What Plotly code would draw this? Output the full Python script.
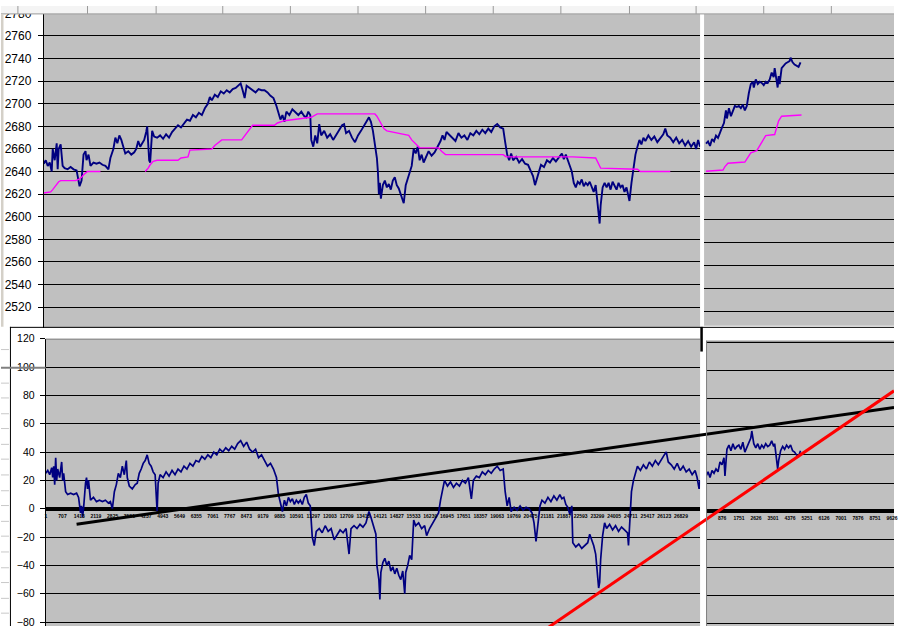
import plotly.graph_objects as go

W, H = 898, 628

# ---------------- data ----------------
# top chart, left panel: price (navy) and stepped baseline (magenta); x = sample number
top_price_x = [0, 84, 168, 252, 336, 378, 462, 546, 588, 630, 714, 756, 798, 882, 1008, 1134, 1260, 1386, 1470, 1512,
               1596, 1680, 1764, 1806, 1890, 1974, 2100, 2226, 2352, 2478, 2604, 2730, 2814, 2940, 3024, 3108, 3192,
               3276, 3360, 3444, 3570, 3696, 3822, 3906, 3990, 4074, 4158, 4242, 4326, 4368, 4410, 4452, 4494, 4536,
               4578, 4662, 4788, 4914, 5040, 5166, 5292, 5418, 5544, 5670, 5796, 5922, 6048, 6174, 6300, 6426, 6552,
               6678, 6804, 6930, 7014, 7098, 7224, 7350, 7476, 7602, 7728, 7854, 7980, 8106, 8232, 8316, 8400, 8484,
               8568, 8694, 8820, 8946, 9072, 9198, 9324, 9450, 9576, 9702, 9828, 9912, 9996, 10080, 10164, 10248,
               10374, 10500, 10626, 10752, 10878, 11004, 11088, 11172, 11256, 11298, 11382, 11466, 11550, 11634, 11718,
               11844, 11970, 12096, 12222, 12348, 12474, 12600, 12684, 12768, 12894, 13020, 13146, 13272, 13398, 13524,
               13650, 13734, 13818, 13902, 13986, 14070, 14112, 14154, 14196, 14238, 14322, 14406, 14490, 14574, 14658,
               14742, 14826, 14910, 14994, 15078, 15162, 15204, 15288, 15372, 15456, 15540, 15624, 15708, 15792, 15876,
               15960, 16044, 16128, 16254, 16380, 16506, 16632, 16758, 16842, 16926, 17010, 17136, 17262, 17388, 17514,
               17640, 17766, 17892, 18018, 18144, 18270, 18396, 18522, 18648, 18774, 18900, 19026, 19152, 19278, 19404,
               19488, 19572, 19656, 19740, 19824, 19950, 20076, 20202, 20328, 20454, 20580, 20664, 20748, 20832, 20916,
               21000, 21126, 21252, 21378, 21504, 21630, 21756, 21882, 21966, 22050, 22134, 22218, 22302, 22386, 22470,
               22554, 22638, 22722, 22806, 22890, 22974, 23058, 23142, 23226, 23310, 23394, 23436, 23478, 23520, 23604,
               23688, 23772, 23856, 23940, 24024, 24108, 24192, 24276, 24360, 24444, 24528, 24612, 24696, 24738, 24822,
               24906, 24990, 25074, 25158, 25242, 25326, 25410, 25536, 25662, 25788, 25914, 26040, 26166, 26250, 26334,
               26460, 26586, 26712, 26838, 26964, 27090, 27216, 27342, 27468, 27552, 27636, 27720]
top_price_y = [2647, 2650, 2645, 2648, 2640, 2660, 2650, 2665, 2642, 2660, 2664, 2650, 2645, 2643, 2642, 2644, 2642,
               2641, 2630, 2627, 2632, 2655, 2658, 2650, 2655, 2645, 2648, 2647, 2648, 2646, 2645, 2642, 2652, 2660,
               2670, 2665, 2672, 2668, 2662, 2656, 2658, 2655, 2657, 2660, 2667, 2662, 2665, 2668, 2675, 2680, 2665,
               2650, 2648, 2662, 2676, 2671, 2670, 2672, 2669, 2673, 2670, 2675, 2678, 2681, 2679, 2683, 2686, 2685,
               2690, 2688, 2692, 2690, 2696, 2700, 2706, 2703, 2708, 2706, 2711, 2709, 2712, 2710, 2713, 2714, 2716,
               2718, 2712, 2705, 2716, 2714, 2712, 2710, 2713, 2712, 2712, 2710, 2707, 2705, 2698, 2692, 2686, 2690,
               2684, 2693, 2690, 2695, 2692, 2690, 2693, 2689, 2688, 2693, 2690, 2668, 2662, 2672, 2665, 2682, 2672,
               2676, 2670, 2673, 2668, 2672, 2676, 2681, 2682, 2674, 2676, 2670, 2666, 2672, 2676, 2680, 2685, 2688,
               2684, 2676, 2664, 2652, 2640, 2620, 2630, 2616, 2628, 2632, 2626, 2629, 2624, 2632, 2635, 2628, 2625,
               2620, 2616, 2612, 2628, 2634, 2640, 2645, 2660, 2656, 2662, 2650, 2655, 2648, 2652, 2658, 2654, 2657,
               2662, 2667, 2672, 2668, 2675, 2672, 2670, 2667, 2674, 2670, 2672, 2668, 2674, 2672, 2676, 2673, 2677,
               2674, 2678, 2675, 2680, 2682, 2679, 2678, 2666, 2655, 2650, 2656, 2650, 2653, 2648, 2651, 2647, 2646,
               2640, 2636, 2628, 2634, 2642, 2646, 2644, 2650, 2648, 2652, 2649, 2653, 2656, 2651, 2655, 2650, 2645,
               2640, 2630, 2626, 2631, 2629, 2633, 2627, 2630, 2628, 2631, 2626, 2622, 2628, 2612, 2600, 2594, 2610,
               2626, 2630, 2626, 2630, 2624, 2631, 2627, 2624, 2630, 2626, 2628, 2622, 2626, 2618, 2614, 2630, 2645,
               2655, 2662, 2668, 2664, 2670, 2667, 2672, 2668, 2671, 2666, 2670, 2673, 2678, 2672, 2670, 2666, 2670,
               2665, 2668, 2663, 2667, 2662, 2666, 2660, 2668, 2662]

top_base_x = [0, 294, 378, 504, 630, 714, 1344, 1470, 1596, 1722, 1848, 2394, 2500, 4284, 4410, 4494, 4620, 4788,
              5670, 5796, 6090, 6174, 7098, 7224, 7392, 7518, 8358, 8526, 8694, 8820, 9744, 9870, 10164, 10584, 11004,
              11298, 11550, 13986, 14070, 14154, 14238, 14364, 14490, 14994, 15414, 15540, 15708, 15876, 16674, 16800,
              16968, 19404, 19530, 20880, 22344, 23310, 23394, 23520, 25074, 25200, 26460]
top_base_y = [2621, 2622, 2624, 2628, 2631, 2632, 2632, 2633, 2635, 2638, 2640, 2640, None, 2640, 2643, 2646, 2649,
              2650, 2650, 2652, 2653, 2659, 2660, 2663, 2666, 2668, 2668, 2673, 2678, 2681, 2681, 2683, 2685, 2686,
              2687, 2688, 2691, 2691, 2689, 2686, 2682, 2678, 2676, 2674, 2672, 2668, 2664, 2661, 2661, 2658, 2655,
              2655, 2653, 2653, 2653, 2652, 2648, 2643, 2642, 2640, 2640]

# top chart, right panel
right_price_x = [51, 154, 256, 358, 461, 563, 666, 768, 870, 973, 1075, 1126, 1229, 1331, 1434, 1536, 1638, 1741,
                 1843, 1946, 2048, 2150, 2253, 2355, 2458, 2509, 2611, 2714, 2816, 2918, 3021, 3123, 3226, 3328, 3430,
                 3533, 3584, 3686, 3738, 3789, 3840, 3942, 4045, 4147, 4250, 4352, 4403, 4506, 4608, 4710, 4813, 4915]
right_price_y = [2666, 2668, 2664, 2670, 2668, 2673, 2671, 2676, 2680, 2684, 2695, 2688, 2697, 2690, 2694, 2699, 2698,
                 2699, 2697, 2700, 2695, 2699, 2710, 2718, 2720, 2715, 2722, 2718, 2720, 2719, 2717, 2720, 2719, 2722,
                 2728, 2724, 2732, 2718, 2715, 2725, 2718, 2732, 2734, 2736, 2737, 2738, 2741, 2737, 2735, 2734, 2733,
                 2737]
right_base_x = [51, 922, 1024, 1178, 2048, 2202, 2355, 2662, 2816, 2970, 3123, 3584, 3686, 3789, 3942, 4966]
right_base_y = [2642, 2643, 2646, 2649, 2650, 2654, 2658, 2660, 2664, 2669, 2673, 2674, 2680, 2686, 2690, 2691]

# bottom chart, left panel: oscillator
osc_x = [0, 84, 168, 252, 294, 336, 378, 420, 462, 504, 588, 672, 714, 756, 840, 924, 1050, 1176, 1302, 1386, 1470,
         1512, 1554, 1596, 1680, 1722, 1764, 1806, 1890, 2016, 2142, 2268, 2394, 2520, 2646, 2730, 2814, 2898, 2982,
         3066, 3150, 3234, 3318, 3402, 3444, 3528, 3654, 3780, 3864, 3948, 4032, 4116, 4200, 4284, 4368, 4452, 4536,
         4620, 4704, 4746, 4830, 4956, 5082, 5208, 5334, 5460, 5586, 5712, 5838, 5964, 6090, 6216, 6342, 6468, 6594,
         6720, 6846, 6972, 7098, 7224, 7350, 7476, 7602, 7728, 7854, 7980, 8106, 8232, 8358, 8484, 8610, 8736, 8862,
         8988, 9114, 9240, 9366, 9492, 9618, 9744, 9828, 9912, 9996, 10080, 10164, 10248, 10332, 10416, 10500, 10584,
         10668, 10752, 10836, 10920, 11004, 11088, 11172, 11256, 11340, 11424, 11550, 11676, 11802, 11928, 12054,
         12180, 12306, 12432, 12558, 12684, 12810, 12894, 13020, 13146, 13272, 13398, 13524, 13650, 13734, 13860,
         13944, 13986, 14070, 14112, 14154, 14238, 14322, 14406, 14490, 14574, 14658, 14742, 14826, 14910, 14994,
         15078, 15162, 15204, 15288, 15372, 15456, 15540, 15624, 15750, 15876, 16002, 16086, 16212, 16338, 16464,
         16590, 16674, 16758, 16842, 16968, 17094, 17220, 17346, 17472, 17598, 17724, 17850, 17976, 18060, 18186,
         18312, 18438, 18564, 18690, 18816, 18942, 19068, 19194, 19320, 19404, 19488, 19572, 19656, 19782, 19908,
         20034, 20160, 20286, 20412, 20538, 20622, 20706, 20790, 20874, 20958, 21084, 21210, 21336, 21462, 21588,
         21714, 21798, 21882, 21966, 22050, 22134, 22218, 22260, 22386, 22512, 22638, 22764, 22890, 22974, 23058,
         23142, 23226, 23268, 23310, 23352, 23394, 23436, 23520, 23604, 23688, 23814, 23940, 24066, 24192, 24318,
         24444, 24570, 24612, 24696, 24738, 24822, 24906, 24990, 25116, 25242, 25368, 25494, 25620, 25746, 25872,
         25998, 26124, 26208, 26292, 26418, 26544, 26670, 26796, 26922, 27048, 27174, 27300, 27426, 27510, 27594,
         27636]
osc_y = [25, 27, 24, 29, 22, 30, 17, 36, 20, 28, 22, 33, 20, 25, 12, 10, 11, 10, 11, 8, -3, 2, -6, 0, 18, 22, 14, 20,
         6, 8, 5, 6, 5, 6, 4, 5, 0, 12, 17, 25, 22, 30, 24, 34, 22, 16, 14, 17, 18, 25, 28, 32, 34, 38, 32, 30, 26, 24,
         -2, 18, 24, 22, 26, 23, 27, 24, 28, 26, 30, 28, 32, 30, 34, 33, 37, 35, 38, 36, 40, 38, 42, 40, 43, 41, 44, 42,
         46, 48, 44, 47, 42, 40, 42, 36, 38, 34, 30, 32, 28, 22, 10, 4, -2, 6, 2, 8, 5, 7, 3, 6, 4, 6, 3, 8, 10, 4, 2,
         -20, -26, -16, -14, -17, -12, -16, -14, -22, -18, -15, -17, -14, -32, -14, -12, -14, -11, -13, -10, -2, -6,
         -14, -18, -40, -50, -64, -45, -38, -35, -40, -37, -44, -41, -46, -42, -47, -50, -44, -60, -45, -40, -33, -36,
         -8, -12, -10, -14, -12, -19, -14, -10, -6, -3, 6, 14, 20, 16, 19, 15, 18, 16, 20, 18, 22, 7, 20, 23, 22, 26,
         24, 27, 25, 28, 30, 27, 28, 12, 2, 8, -2, 1, -1, 2, -1, 1, 0, -3, -10, -23, -8, 2, 6, 4, 8, 5, 9, 6, 10, 7, 8,
         3, 1, -4, 2, -24, -27, -25, -28, -26, -24, -18, -22, -26, -32, -40, -48, -56, -52, -36, -19, -10, -14, -11,
         -15, -12, -16, -13, -15, -17, -26, -5, 12, 20, 26, 30, 27, 31, 28, 33, 30, 34, 31, 35, 38, 40, 33, 31, 28, 32,
         27, 30, 26, 28, 24, 27, 22, 14, 20]

# bottom chart, right panel
osc_r_x = [51, 154, 256, 358, 461, 563, 666, 768, 870, 973, 1024, 1126, 1229, 1331, 1434, 1536, 1638, 1741, 1843,
           1946, 2048, 2150, 2253, 2355, 2406, 2509, 2611, 2714, 2816, 2918, 3021, 3123, 3226, 3328, 3430, 3533, 3584,
           3686, 3738, 3789, 3891, 3994, 4096, 4198, 4301, 4403, 4506, 4608, 4710, 4813, 4915]
osc_r_y = [25, 28, 24, 29, 27, 30, 28, 35, 33, 38, 25, 44, 47, 43, 48, 44, 46, 47, 44, 49, 42, 45, 48, 52, 57, 48,
           45, 48, 44, 47, 45, 48, 46, 47, 50, 46, 48, 35, 30, 36, 43, 46, 44, 47, 45, 47, 43, 42, 40, 39, 43]

# hand-drawn trend lines across the bottom chart (same sample scale as the left panel)
trend_black_x = [1302, 35826]
trend_black_y = [-10.9, 71.5]
trend_red_x = [20790, 35826]
trend_red_y = [-88.8, 83.2]

# tick labels
top_ticks = [2500, 2520, 2540, 2560, 2580, 2600, 2620, 2640, 2660, 2680, 2700, 2720, 2740, 2760, 2780]
osc_ticks = [-80, -60, -40, -20, 0, 20, 40, 60, 80, 100, 120]
left_cat_ticks = [1, 707, 1413, 2119, 2825, 3531, 4237, 4943, 5649, 6355, 7061, 7767, 8473, 9179, 9885, 10591,
                  11297, 12003, 12709, 13415, 14121, 14827, 15533, 16239, 16945, 17651, 18357, 19063, 19769, 20475,
                  21181, 21887, 22593, 23299, 24005, 24711, 25417, 26123, 26829]
right_cat_ticks = [876, 1751, 2626, 3501, 4376, 5251, 6126, 7001, 7876, 8751, 9626]

# ---------------- figure ----------------
def fx(p):
    return p / W


def fy(p):
    return 1 - p / H


NAVY = "#000080"
MAG = "#FF00FF"
FONT = "Liberation Sans, Arial, sans-serif"

fig = go.Figure()
fig.add_trace(go.Scatter(x=top_price_x, y=top_price_y, mode="lines", line=dict(color=NAVY, width=1.9),
                         xaxis="x", yaxis="y", hoverinfo="skip"))
fig.add_trace(go.Scatter(x=top_base_x, y=top_base_y, mode="lines", line=dict(color=MAG, width=1.4),
                         xaxis="x", yaxis="y", hoverinfo="skip"))
fig.add_trace(go.Scatter(x=right_price_x, y=right_price_y, mode="lines", line=dict(color=NAVY, width=1.9),
                         xaxis="x2", yaxis="y2", hoverinfo="skip"))
fig.add_trace(go.Scatter(x=right_base_x, y=right_base_y, mode="lines", line=dict(color=MAG, width=1.4),
                         xaxis="x2", yaxis="y2", hoverinfo="skip"))
fig.add_trace(go.Scatter(x=osc_x, y=osc_y, mode="lines", line=dict(color=NAVY, width=1.7),
                         xaxis="x3", yaxis="y3", hoverinfo="skip"))
fig.add_trace(go.Scatter(x=osc_r_x, y=osc_r_y, mode="lines", line=dict(color=NAVY, width=1.7),
                         xaxis="x4", yaxis="y4", hoverinfo="skip"))
fig.add_trace(go.Scatter(x=trend_black_x, y=trend_black_y, mode="lines", line=dict(color="black", width=3),
                         xaxis="x5", yaxis="y5", hoverinfo="skip"))
fig.add_trace(go.Scatter(x=trend_red_x, y=trend_red_y, mode="lines", line=dict(color="#FF0000", width=3),
                         xaxis="x5", yaxis="y5", hoverinfo="skip"))

hidden = dict(visible=False, showgrid=False, zeroline=False)
grid = dict(showgrid=True, gridcolor="black", gridwidth=1)
cat_font = dict(size=5, family=FONT, color="black", weight="bold")

fig.update_layout(
    width=W, height=H, margin=dict(l=0, r=0, t=0, b=0),
    paper_bgcolor="white", plot_bgcolor="rgba(0,0,0,0)", showlegend=False,
    font=dict(family=FONT, color="black"),
    xaxis=dict(domain=[fx(43), fx(703)], range=[0, 27720], anchor="y", **hidden),
    yaxis=dict(domain=[fy(326), 1], range=[2501.7, 2786.5], anchor="x", tickmode="array", tickvals=top_ticks,
               ticks="outside", ticklen=5, tickcolor="black", showline=True, linecolor="black", linewidth=1,
               zeroline=False, tickfont=dict(size=12, family=FONT, color="black"), ticklabelstandoff=4,
               ticklabeloverflow="allow", **grid),
    xaxis2=dict(domain=[fx(707), 1], range=[-51, 9728], anchor="y2", **hidden),
    yaxis2=dict(domain=[fy(324), 1], range=[2507.1, 2786.1], anchor="x2", tickmode="array", tickvals=top_ticks,
                showticklabels=False, ticks="", showline=False, zeroline=False, **grid),
    xaxis3=dict(domain=[fx(45), fx(703)], range=[0, 27636], anchor="free", position=fy(509.3), tickmode="array",
                tickvals=left_cat_ticks, ticktext=[str(v) for v in left_cat_ticks], ticks="outside", ticklen=2,
                tickcolor="rgba(0,0,0,0)", showgrid=False, zeroline=False, showline=False, tickangle=0,
                ticklabeloverflow="allow", tickfont=cat_font),
    yaxis3=dict(domain=[0, fy(337)], range=[-82.8, 120], anchor="x3", tickmode="array", tickvals=osc_ticks,
                ticks="outside", ticklen=5, tickcolor="black", showline=True, linecolor="black", linewidth=1,
                zeroline=True, zerolinecolor="black", zerolinewidth=4, ticklabeloverflow="allow",
                tickfont=dict(size=10.5, family=FONT, color="black"), ticklabelstandoff=3, **grid),
    xaxis4=dict(domain=[fx(709), 1], range=[51, 9728], anchor="free", position=fy(511.7), tickmode="array",
                tickvals=right_cat_ticks, ticktext=[str(v) for v in right_cat_ticks], ticks="outside", ticklen=2,
                tickcolor="rgba(0,0,0,0)", showgrid=False, zeroline=False, showline=False, tickangle=0,
                ticklabeloverflow="allow", tickfont=cat_font),
    yaxis4=dict(domain=[0, fy(339)], range=[-81.6, 121.2], anchor="x4", tickmode="array", tickvals=osc_ticks,
                showticklabels=False, ticks="", showline=False, zeroline=True, zerolinecolor="black",
                zerolinewidth=4, **grid),
    xaxis5=dict(domain=[fx(45), 1], range=[0, 35826], anchor="y5", **hidden),
    yaxis5=dict(domain=[0, fy(337)], range=[-82.8, 120], anchor="x5", **hidden),
)

shapes = []


def rect(x0, y0, x1, y1, fill, layer="below", line=None):
    shapes.append(dict(type="rect", xref="paper", yref="paper", x0=fx(x0), x1=fx(x1), y0=fy(y1), y1=fy(y0),
                       fillcolor=fill, line=line or dict(width=0), layer=layer))


def seg(x0, y0, x1, y1, color, width=1, layer="above"):
    shapes.append(dict(type="line", xref="paper", yref="paper", x0=fx(x0), x1=fx(x1), y0=fy(y0), y1=fy(y1),
                       line=dict(color=color, width=width), layer=layer))


# grey plot areas
rect(43, 8, 703, 326, "#C0C0C0")
rect(707, 8, 898, 324, "#C0C0C0")
rect(45, 337, 703, 628, "#C0C0C0")
rect(709, 339, 898, 628, "#C0C0C0")
# plot-area borders of the lower charts
seg(45, 337.5, 703, 337.5, "#808080", 1)
seg(709, 339.5, 898, 339.5, "#808080", 1)
seg(709.5, 339, 709.5, 628, "#808080", 1)
# lower chart-area frame
seg(9, 325.5, 898, 325.5, "black", 1)
seg(9.5, 325, 9.5, 628, "black", 1)
seg(704.5, 325, 704.5, 350, "black", 2.5)
seg(0, 366.5, 45, 366.5, "#808080", 2)
# spreadsheet header strip and row stubs
rect(0, 0, 898, 8, "#F4F4F4", layer="above")
seg(0, 8, 898, 8, "#9A9A9A", 1)
for cx in [17, 87, 156, 223, 291, 359, 427, 495, 563, 632, 699, 767, 835]:
    seg(cx, 0, cx, 8, "#9A9A9A", 1)
rect(0, 8, 2.5, 325, "#D4D0C8", layer="above")
for ry in [348, 382, 397, 413, 428, 444, 459, 475, 491, 506, 522, 537, 553, 569, 584, 600, 615]:
    seg(0, ry, 8, ry, "#C8C8C8", 1)

fig.update_layout(shapes=shapes)
fig.write_html("out.html", config={"displayModeBar": False},
               post_script="document.body.style.margin='0';document.body.style.padding='0';"
                           "document.body.style.overflow='hidden';")
